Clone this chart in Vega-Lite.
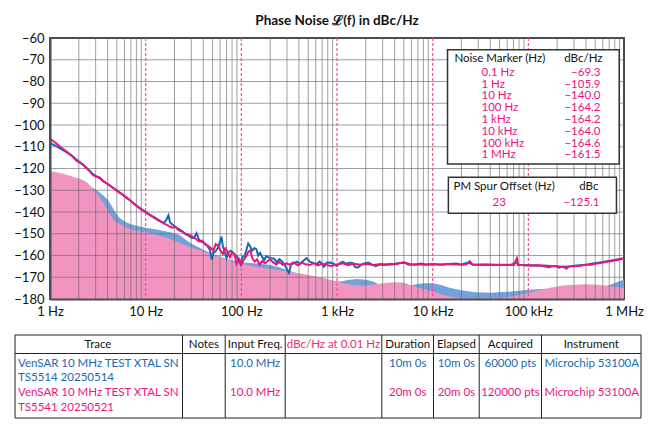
{
  "$schema": "https://vega.github.io/schema/vega-lite/v6.json",
  "padding": {"left": 12, "top": 12, "right": 4, "bottom": 4},
  "spacing": 15,
  "config": {
    "font": "Lato",
    "axis": {"labelFont": "Lato", "labelFontSize": 13, "labelColor": "#111", "ticks": false, "grid": false, "title": null},
    "text": {"font": "Lato"}
  },
  "datasets": {
    "traces": [
      {"f":1,"v":-106.3,"t":"p"},{"f":1.15,"v":-108.3,"t":"p"},{"f":1.3,"v":-110.2,"t":"p"},{"f":1.5,"v":-112.3,"t":"p"},{"f":1.7,"v":-114.3,"t":"p"},{"f":1.9,"v":-116.5,"t":"p"},{"f":2.05,"v":-117.3,"t":"p"},{"f":2.2,"v":-118.1,"t":"p"},{"f":2.4,"v":-119.6,"t":"p"},{"f":2.6,"v":-121.3,"t":"p"},{"f":2.8,"v":-122.9,"t":"p"},{"f":3.0,"v":-123.7,"t":"p"},{"f":3.3,"v":-124.1,"t":"p"},{"f":3.6,"v":-125.6,"t":"p"},{"f":4.0,"v":-127.2,"t":"p"},{"f":4.5,"v":-128.6,"t":"p"},{"f":5,"v":-130.3,"t":"p"},{"f":5.6,"v":-131.8,"t":"p"},{"f":6.3,"v":-133.2,"t":"p"},{"f":7,"v":-135,"t":"p"},{"f":8,"v":-137.2,"t":"p"},{"f":9,"v":-138.9,"t":"p"},{"f":10,"v":-140.2,"t":"p"},{"f":11,"v":-141.3,"t":"p"},{"f":12.5,"v":-143,"t":"p"},{"f":14,"v":-144.2,"t":"p"},{"f":16,"v":-145.6,"t":"p"},{"f":17.5,"v":-146.5,"t":"p"},{"f":19,"v":-147.2,"t":"p"},{"f":20.5,"v":-146.8,"t":"p"},{"f":22,"v":-148.4,"t":"p"},{"f":24,"v":-149,"t":"p"},{"f":26,"v":-149.9,"t":"p"},{"f":28,"v":-150.4,"t":"p"},{"f":30,"v":-151,"t":"p"},{"f":33,"v":-152.2,"t":"p"},{"f":36,"v":-153.5,"t":"p"},{"f":39,"v":-153.2,"t":"p"},{"f":42,"v":-155,"t":"p"},{"f":45,"v":-155.6,"t":"p"},{"f":48,"v":-156.6,"t":"p"},{"f":51,"v":-157.8,"t":"p"},{"f":54,"v":-154.8,"t":"p"},{"f":57,"v":-155.6,"t":"p"},{"f":60,"v":-157.4,"t":"p"},{"f":64,"v":-159.3,"t":"p"},{"f":68,"v":-156.7,"t":"p"},{"f":72,"v":-158.5,"t":"p"},{"f":76,"v":-160.8,"t":"p"},{"f":80,"v":-158.6,"t":"p"},{"f":85,"v":-159.4,"t":"p"},{"f":89,"v":-163.8,"t":"p"},{"f":94,"v":-161.5,"t":"p"},{"f":100,"v":-164.2,"t":"p"},{"f":106,"v":-162,"t":"p"},{"f":112,"v":-160.5,"t":"p"},{"f":118,"v":-158.4,"t":"p"},{"f":124,"v":-157.6,"t":"p"},{"f":131,"v":-161.5,"t":"p"},{"f":138,"v":-162.8,"t":"p"},{"f":146,"v":-161.8,"t":"p"},{"f":155,"v":-164.2,"t":"p"},{"f":165,"v":-162.6,"t":"p"},{"f":178,"v":-163.6,"t":"p"},{"f":190,"v":-162.4,"t":"p"},{"f":200,"v":-161.8,"t":"p"},{"f":215,"v":-163.2,"t":"p"},{"f":232,"v":-164.1,"t":"p"},{"f":250,"v":-163,"t":"p"},{"f":270,"v":-164.3,"t":"p"},{"f":295,"v":-163.6,"t":"p"},{"f":320,"v":-164.2,"t":"p"},{"f":350,"v":-163.2,"t":"p"},{"f":390,"v":-164.5,"t":"p"},{"f":430,"v":-163.4,"t":"p"},{"f":470,"v":-164,"t":"p"},{"f":520,"v":-164.4,"t":"p"},{"f":570,"v":-163.5,"t":"p"},{"f":630,"v":-164.5,"t":"p"},{"f":700,"v":-163.7,"t":"p"},{"f":780,"v":-164.4,"t":"p"},{"f":870,"v":-164.8,"t":"p"},{"f":1000,"v":-164.2,"t":"p"},{"f":1150,"v":-163.6,"t":"p"},{"f":1300,"v":-164.5,"t":"p"},{"f":1500,"v":-163.8,"t":"p"},{"f":1750,"v":-164.3,"t":"p"},{"f":2000,"v":-163.9,"t":"p"},{"f":2400,"v":-164.4,"t":"p"},{"f":2900,"v":-163.9,"t":"p"},{"f":3500,"v":-164.2,"t":"p"},{"f":4200,"v":-163.9,"t":"p"},{"f":5000,"v":-163.1,"t":"p"},{"f":5600,"v":-164.2,"t":"p"},{"f":7000,"v":-164,"t":"p"},{"f":8500,"v":-164.2,"t":"p"},{"f":10000,"v":-164,"t":"p"},{"f":12500,"v":-164.3,"t":"p"},{"f":15000,"v":-163.9,"t":"p"},{"f":18000,"v":-164.1,"t":"p"},{"f":21000,"v":-164.2,"t":"p"},{"f":23000,"v":-163.8,"t":"p"},{"f":24500,"v":-162.6,"t":"p"},{"f":26000,"v":-164.1,"t":"p"},{"f":30000,"v":-164.3,"t":"p"},{"f":36000,"v":-164.2,"t":"p"},{"f":45000,"v":-164.3,"t":"p"},{"f":55000,"v":-164.4,"t":"p"},{"f":65000,"v":-164.3,"t":"p"},{"f":71000,"v":-164.4,"t":"p"},{"f":74000,"v":-162.4,"t":"p"},{"f":76000,"v":-161.3,"t":"p"},{"f":78000,"v":-164.3,"t":"p"},{"f":90000,"v":-164.5,"t":"p"},{"f":100000,"v":-164.6,"t":"p"},{"f":120000,"v":-164.5,"t":"p"},{"f":145000,"v":-164.6,"t":"p"},{"f":175000,"v":-164.8,"t":"p"},{"f":205000,"v":-164.9,"t":"p"},{"f":235000,"v":-165.4,"t":"p"},{"f":250000,"v":-166.1,"t":"p"},{"f":265000,"v":-165,"t":"p"},{"f":300000,"v":-164.9,"t":"p"},{"f":350000,"v":-164.7,"t":"p"},{"f":400000,"v":-164.2,"t":"p"},{"f":450000,"v":-164.3,"t":"p"},{"f":500000,"v":-163.8,"t":"p"},{"f":580000,"v":-163.3,"t":"p"},{"f":660000,"v":-162.9,"t":"p"},{"f":750000,"v":-162.5,"t":"p"},{"f":870000,"v":-162,"t":"p"},{"f":1000000,"v":-161.5,"t":"p"},
      {"f":1,"v":-108.3,"t":"b"},{"f":1.15,"v":-109.6,"t":"b"},{"f":1.3,"v":-111,"t":"b"},{"f":1.5,"v":-112.6,"t":"b"},{"f":1.7,"v":-114.2,"t":"b"},{"f":1.9,"v":-116,"t":"b"},{"f":2.05,"v":-117.1,"t":"b"},{"f":2.2,"v":-118.3,"t":"b"},{"f":2.4,"v":-119.8,"t":"b"},{"f":2.6,"v":-121,"t":"b"},{"f":2.8,"v":-122.6,"t":"b"},{"f":3.0,"v":-123.4,"t":"b"},{"f":3.3,"v":-124.4,"t":"b"},{"f":3.6,"v":-125.9,"t":"b"},{"f":4.0,"v":-127,"t":"b"},{"f":4.5,"v":-128.8,"t":"b"},{"f":5,"v":-130,"t":"b"},{"f":5.6,"v":-131.6,"t":"b"},{"f":6.3,"v":-133.5,"t":"b"},{"f":7,"v":-134.8,"t":"b"},{"f":8,"v":-137,"t":"b"},{"f":9,"v":-138.6,"t":"b"},{"f":10,"v":-139.9,"t":"b"},{"f":11,"v":-141.2,"t":"b"},{"f":12.5,"v":-142.6,"t":"b"},{"f":14,"v":-144,"t":"b"},{"f":15.5,"v":-145,"t":"b"},{"f":16.5,"v":-143.5,"t":"b"},{"f":17.3,"v":-141.5,"t":"b"},{"f":18,"v":-144.8,"t":"b"},{"f":19,"v":-145.7,"t":"b"},{"f":20.5,"v":-146.9,"t":"b"},{"f":22,"v":-147.8,"t":"b"},{"f":24,"v":-148.8,"t":"b"},{"f":26,"v":-150.2,"t":"b"},{"f":28,"v":-150.8,"t":"b"},{"f":30,"v":-151.8,"t":"b"},{"f":32,"v":-151.9,"t":"b"},{"f":34,"v":-149.7,"t":"b"},{"f":36,"v":-152.6,"t":"b"},{"f":38,"v":-153.6,"t":"b"},{"f":41,"v":-154.2,"t":"b"},{"f":44,"v":-155.5,"t":"b"},{"f":47,"v":-157.5,"t":"b"},{"f":49,"v":-161.8,"t":"b"},{"f":51,"v":-159,"t":"b"},{"f":54,"v":-158,"t":"b"},{"f":57,"v":-156.5,"t":"b"},{"f":60,"v":-153.5,"t":"b"},{"f":62,"v":-151.3,"t":"b"},{"f":64,"v":-155.6,"t":"b"},{"f":67,"v":-158.5,"t":"b"},{"f":70,"v":-161.2,"t":"b"},{"f":73,"v":-158.8,"t":"b"},{"f":77,"v":-157.8,"t":"b"},{"f":82,"v":-158.6,"t":"b"},{"f":86,"v":-159.8,"t":"b"},{"f":90,"v":-160.5,"t":"b"},{"f":95,"v":-162.6,"t":"b"},{"f":98,"v":-164,"t":"b"},{"f":103,"v":-160.5,"t":"b"},{"f":108,"v":-160.3,"t":"b"},{"f":113,"v":-157.5,"t":"b"},{"f":118,"v":-154.5,"t":"b"},{"f":123,"v":-155.6,"t":"b"},{"f":130,"v":-157.8,"t":"b"},{"f":137,"v":-156.6,"t":"b"},{"f":144,"v":-157.2,"t":"b"},{"f":150,"v":-160,"t":"b"},{"f":157,"v":-158.8,"t":"b"},{"f":165,"v":-160.6,"t":"b"},{"f":173,"v":-162.2,"t":"b"},{"f":182,"v":-160.3,"t":"b"},{"f":192,"v":-160.8,"t":"b"},{"f":205,"v":-161.2,"t":"b"},{"f":220,"v":-161.5,"t":"b"},{"f":235,"v":-163.1,"t":"b"},{"f":250,"v":-161.7,"t":"b"},{"f":265,"v":-162.6,"t":"b"},{"f":285,"v":-164.3,"t":"b"},{"f":300,"v":-166.5,"t":"b"},{"f":315,"v":-168,"t":"b"},{"f":330,"v":-164.2,"t":"b"},{"f":355,"v":-163.5,"t":"b"},{"f":380,"v":-162.8,"t":"b"},{"f":410,"v":-163.8,"t":"b"},{"f":440,"v":-162.6,"t":"b"},{"f":480,"v":-161.2,"t":"b"},{"f":520,"v":-162.8,"t":"b"},{"f":560,"v":-163.4,"t":"b"},{"f":610,"v":-164,"t":"b"},{"f":660,"v":-162.7,"t":"b"},{"f":700,"v":-164.2,"t":"b"},{"f":730,"v":-165.2,"t":"b"},{"f":780,"v":-163.3,"t":"b"},{"f":850,"v":-163.2,"t":"b"},{"f":920,"v":-163.8,"t":"b"},{"f":1000,"v":-164.8,"t":"b"},{"f":1080,"v":-163.4,"t":"b"},{"f":1150,"v":-162.9,"t":"b"},{"f":1250,"v":-163.8,"t":"b"},{"f":1350,"v":-163.3,"t":"b"},{"f":1450,"v":-163.4,"t":"b"},{"f":1550,"v":-165.3,"t":"b"},{"f":1650,"v":-165.5,"t":"b"},{"f":1800,"v":-164.2,"t":"b"},{"f":1950,"v":-163.6,"t":"b"},{"f":2150,"v":-163.4,"t":"b"},{"f":2350,"v":-164.3,"t":"b"},{"f":2550,"v":-164.9,"t":"b"},{"f":2800,"v":-164.1,"t":"b"},{"f":3100,"v":-164.4,"t":"b"},{"f":3500,"v":-163.9,"t":"b"},{"f":4000,"v":-163.8,"t":"b"},{"f":4500,"v":-163.4,"t":"b"},{"f":5200,"v":-163.3,"t":"b"},{"f":5800,"v":-164,"t":"b"},{"f":6600,"v":-164.2,"t":"b"},{"f":7500,"v":-163.7,"t":"b"},{"f":8500,"v":-164.1,"t":"b"},{"f":10000,"v":-163.9,"t":"b"},{"f":12000,"v":-164.1,"t":"b"},{"f":14500,"v":-163.9,"t":"b"},{"f":17500,"v":-163.7,"t":"b"},{"f":20000,"v":-164.1,"t":"b"},{"f":23500,"v":-163.2,"t":"b"},{"f":26000,"v":-164.1,"t":"b"},{"f":30000,"v":-164.2,"t":"b"},{"f":36000,"v":-164.1,"t":"b"},{"f":45000,"v":-164.4,"t":"b"},{"f":55000,"v":-164.3,"t":"b"},{"f":65000,"v":-164.4,"t":"b"},{"f":73000,"v":-163.4,"t":"b"},{"f":75000,"v":-162.2,"t":"b"},{"f":78000,"v":-164.4,"t":"b"},{"f":90000,"v":-164.4,"t":"b"},{"f":100000,"v":-164.5,"t":"b"},{"f":115000,"v":-164.6,"t":"b"},{"f":130000,"v":-164.6,"t":"b"},{"f":150000,"v":-165.1,"t":"b"},{"f":165000,"v":-165.4,"t":"b"},{"f":180000,"v":-164.8,"t":"b"},{"f":195000,"v":-165,"t":"b"},{"f":210000,"v":-165.6,"t":"b"},{"f":230000,"v":-165.1,"t":"b"},{"f":260000,"v":-165.2,"t":"b"},{"f":300000,"v":-164.7,"t":"b"},{"f":350000,"v":-164.5,"t":"b"},{"f":400000,"v":-164.3,"t":"b"},{"f":450000,"v":-163.8,"t":"b"},{"f":520000,"v":-163.4,"t":"b"},{"f":600000,"v":-163,"t":"b"},{"f":700000,"v":-162.5,"t":"b"},{"f":820000,"v":-162,"t":"b"},{"f":1000000,"v":-161.3,"t":"b"}
    ],
    "floors": [
      {"f":1,"v":-121.3,"t":"p"},{"f":1.2,"v":-121.8,"t":"p"},{"f":1.5,"v":-122.9,"t":"p"},{"f":1.8,"v":-124,"t":"p"},{"f":2.1,"v":-124.8,"t":"p"},{"f":2.4,"v":-126.2,"t":"p"},{"f":2.7,"v":-128.3,"t":"p"},{"f":3.0,"v":-130.8,"t":"p"},{"f":3.3,"v":-133.2,"t":"p"},{"f":3.6,"v":-135.8,"t":"p"},{"f":4.0,"v":-139.3,"t":"p"},{"f":4.4,"v":-142.3,"t":"p"},{"f":4.8,"v":-144.2,"t":"p"},{"f":5.4,"v":-145.6,"t":"p"},{"f":6,"v":-146.8,"t":"p"},{"f":7,"v":-148,"t":"p"},{"f":8,"v":-148.7,"t":"p"},{"f":10,"v":-149.4,"t":"p"},{"f":12,"v":-150.1,"t":"p"},{"f":14,"v":-150.9,"t":"p"},{"f":17,"v":-152,"t":"p"},{"f":20,"v":-153.2,"t":"p"},{"f":25,"v":-155,"t":"p"},{"f":30,"v":-156.4,"t":"p"},{"f":40,"v":-158.2,"t":"p"},{"f":50,"v":-159.5,"t":"p"},{"f":70,"v":-161.9,"t":"p"},{"f":100,"v":-163.9,"t":"p"},{"f":150,"v":-165.4,"t":"p"},{"f":200,"v":-166.2,"t":"p"},{"f":300,"v":-167.4,"t":"p"},{"f":420,"v":-168.4,"t":"p"},{"f":550,"v":-169.3,"t":"p"},{"f":700,"v":-170.2,"t":"p"},{"f":900,"v":-171.5,"t":"p"},{"f":1100,"v":-172.5,"t":"p"},{"f":1400,"v":-173.4,"t":"p"},{"f":1800,"v":-173.9,"t":"p"},{"f":2300,"v":-173.6,"t":"p"},{"f":3000,"v":-172.8,"t":"p"},{"f":4000,"v":-172.3,"t":"p"},{"f":5000,"v":-172.5,"t":"p"},{"f":6300,"v":-174,"t":"p"},{"f":8000,"v":-175.4,"t":"p"},{"f":10000,"v":-176.6,"t":"p"},{"f":13000,"v":-178.2,"t":"p"},{"f":17000,"v":-179.3,"t":"p"},{"f":22000,"v":-179.8,"t":"p"},{"f":30000,"v":-179.9,"t":"p"},{"f":40000,"v":-179.8,"t":"p"},{"f":55000,"v":-179.4,"t":"p"},{"f":70000,"v":-178.6,"t":"p"},{"f":90000,"v":-177.7,"t":"p"},{"f":110000,"v":-176.8,"t":"p"},{"f":140000,"v":-175.6,"t":"p"},{"f":180000,"v":-174.6,"t":"p"},{"f":230000,"v":-173.8,"t":"p"},{"f":300000,"v":-173.4,"t":"p"},{"f":380000,"v":-173.2,"t":"p"},{"f":480000,"v":-173.3,"t":"p"},{"f":600000,"v":-173.7,"t":"p"},{"f":750000,"v":-174.3,"t":"p"},{"f":1000000,"v":-175,"t":"p"},
      {"f":1,"v":-121.8,"t":"b"},{"f":1.5,"v":-123.4,"t":"b"},{"f":2,"v":-125,"t":"b"},{"f":2.5,"v":-127.8,"t":"b"},{"f":2.8,"v":-128.8,"t":"b"},{"f":3.2,"v":-130.5,"t":"b"},{"f":3.6,"v":-132.4,"t":"b"},{"f":4.0,"v":-134.3,"t":"b"},{"f":4.4,"v":-137,"t":"b"},{"f":4.8,"v":-140,"t":"b"},{"f":5.3,"v":-142.6,"t":"b"},{"f":6,"v":-144.3,"t":"b"},{"f":7,"v":-145.6,"t":"b"},{"f":8,"v":-146.3,"t":"b"},{"f":10,"v":-147.2,"t":"b"},{"f":13,"v":-148.1,"t":"b"},{"f":16,"v":-148.9,"t":"b"},{"f":20,"v":-149.8,"t":"b"},{"f":23,"v":-150.8,"t":"b"},{"f":26,"v":-152.6,"t":"b"},{"f":30,"v":-154.5,"t":"b"},{"f":35,"v":-156,"t":"b"},{"f":40,"v":-157.4,"t":"b"},{"f":50,"v":-159.3,"t":"b"},{"f":70,"v":-161.6,"t":"b"},{"f":100,"v":-163.1,"t":"b"},{"f":150,"v":-163.7,"t":"b"},{"f":200,"v":-164.4,"t":"b"},{"f":250,"v":-165.4,"t":"b"},{"f":300,"v":-166.8,"t":"b"},{"f":420,"v":-168.6,"t":"b"},{"f":550,"v":-169.6,"t":"b"},{"f":700,"v":-170.6,"t":"b"},{"f":900,"v":-171.6,"t":"b"},{"f":1100,"v":-171.9,"t":"b"},{"f":1300,"v":-171.3,"t":"b"},{"f":1600,"v":-170.8,"t":"b"},{"f":2000,"v":-171.1,"t":"b"},{"f":2400,"v":-172,"t":"b"},{"f":2800,"v":-173.5,"t":"b"},{"f":3500,"v":-174.2,"t":"b"},{"f":4500,"v":-174.5,"t":"b"},{"f":5500,"v":-174,"t":"b"},{"f":6500,"v":-173.3,"t":"b"},{"f":8000,"v":-172.8,"t":"b"},{"f":10000,"v":-172.8,"t":"b"},{"f":12000,"v":-173.5,"t":"b"},{"f":15000,"v":-174.8,"t":"b"},{"f":20000,"v":-176,"t":"b"},{"f":28000,"v":-176.9,"t":"b"},{"f":40000,"v":-177.1,"t":"b"},{"f":60000,"v":-176.7,"t":"b"},{"f":80000,"v":-176.2,"t":"b"},{"f":100000,"v":-175.8,"t":"b"},{"f":150000,"v":-175.3,"t":"b"},{"f":200000,"v":-175.3,"t":"b"},{"f":300000,"v":-175.6,"t":"b"},{"f":400000,"v":-175.7,"t":"b"},{"f":500000,"v":-175.3,"t":"b"},{"f":600000,"v":-174.6,"t":"b"},{"f":700000,"v":-173.6,"t":"b"},{"f":800000,"v":-172.6,"t":"b"},{"f":900000,"v":-171.8,"t":"b"},{"f":1000000,"v":-171,"t":"b"}
    ],
    "gridx": [
      {"f":2},{"f":3},{"f":4},{"f":5},{"f":6},{"f":7},{"f":8},{"f":9},
      {"f":20},{"f":30},{"f":40},{"f":50},{"f":60},{"f":70},{"f":80},{"f":90},
      {"f":200},{"f":300},{"f":400},{"f":500},{"f":600},{"f":700},{"f":800},{"f":900},
      {"f":2000},{"f":3000},{"f":4000},{"f":5000},{"f":6000},{"f":7000},{"f":8000},{"f":9000},
      {"f":20000},{"f":30000},{"f":40000},{"f":50000},{"f":60000},{"f":70000},{"f":80000},{"f":90000},
      {"f":200000},{"f":300000},{"f":400000},{"f":500000},{"f":600000},{"f":700000},{"f":800000},{"f":900000}
    ],
    "gridy": [{"v":-70},{"v":-80},{"v":-90},{"v":-100},{"v":-110},{"v":-120},{"v":-130},{"v":-140},{"v":-150},{"v":-160},{"v":-170}],
    "markers": [
      {"m":"0.1 Hz","f":0.1,"v":-69.3,"i":0},
      {"m":"1 Hz","f":1,"v":-105.9,"i":1},
      {"m":"10 Hz","f":10,"v":-140.0,"i":2},
      {"m":"100 Hz","f":100,"v":-164.2,"i":3},
      {"m":"1 kHz","f":1000,"v":-164.2,"i":4},
      {"m":"10 kHz","f":10000,"v":-164.0,"i":5},
      {"m":"100 kHz","f":100000,"v":-164.6,"i":6},
      {"m":"1 MHz","f":1000000,"v":-161.5,"i":7}
    ],
    "spurs": [{"off":"23","v":-125.1}],
    "columns": [
      {"name":"Trace","x0":0,"x1":167.5,"xc":83},
      {"name":"Notes","x0":167.5,"x1":210.2,"xc":188.9},
      {"name":"Input Freq.","x0":210.2,"x1":270.2,"xc":240.2},
      {"name":"dBc/Hz at 0.01 Hz","x0":270.2,"x1":366.8,"xc":318.5},
      {"name":"Duration","x0":366.8,"x1":418.5,"xc":392.7},
      {"name":"Elapsed","x0":418.5,"x1":464.2,"xc":441.4},
      {"name":"Acquired","x0":464.2,"x1":526.5,"xc":495.4},
      {"name":"Instrument","x0":526.5,"x1":626,"xc":576.3}
    ],
    "cells": [
      {"col":"Trace","line":0,"text":"VenSAR 10 MHz TEST XTAL SN","t":"b"},
      {"col":"Trace","line":1,"text":"TS5514 20250514","t":"b"},
      {"col":"Trace","line":2,"text":"VenSAR 10 MHz TEST XTAL SN","t":"p"},
      {"col":"Trace","line":3,"text":"TS5541 20250521","t":"p"},
      {"col":"Input Freq.","line":0,"text":"10.0 MHz","t":"b"},
      {"col":"Input Freq.","line":2,"text":"10.0 MHz","t":"p"},
      {"col":"Duration","line":0,"text":"10m 0s","t":"b"},
      {"col":"Duration","line":2,"text":"20m 0s","t":"p"},
      {"col":"Elapsed","line":0,"text":"10m 0s","t":"b"},
      {"col":"Elapsed","line":2,"text":"20m 0s","t":"p"},
      {"col":"Acquired","line":0,"text":"60000 pts","t":"b"},
      {"col":"Acquired","line":2,"text":"120000 pts","t":"p"},
      {"col":"Instrument","line":0,"text":"Microchip 53100A","t":"b"},
      {"col":"Instrument","line":2,"text":"Microchip 53100A","t":"p"}
    ]
  },
  "vconcat": [
    {
      "width": 574,
      "height": 261,
      "title": {"text": "Phase Noise ℒ(f) in dBc/Hz", "font": "Lato", "fontSize": 13.5, "fontWeight": "bold", "color": "#111", "frame": "group", "anchor": "middle", "offset": 5},
      "view": {"stroke": "#4a4d57", "strokeWidth": 2, "fill": "white"},
      "resolve": {"scale": {"y": "independent"}},
      "layer": [
        {
          "layer": [
            {
              "data": {"name": "floors"},
              "transform": [{"filter": "datum.t == 'b'"}],
              "mark": {"type": "area", "color": "#74a3da", "opacity": 1, "clip": true},
              "encoding": {
                "x": {"field": "f", "type": "quantitative", "scale": {"type": "log", "domain": [1, 1000000], "nice": false},
                  "axis": {"values": [1, 10, 100, 1000, 10000, 100000, 1000000], "labelExpr": "datum.value == 1 ? '1 Hz' : datum.value == 10 ? '10 Hz' : datum.value == 100 ? '100 Hz' : datum.value == 1000 ? '1 kHz' : datum.value == 10000 ? '10 kHz' : datum.value == 100000 ? '100 kHz' : '1 MHz'", "labelFlush": false, "labelBound": false, "labelOverlap": false, "labelPadding": 6, "domain": true, "domainColor": "#4a4d57", "domainWidth": 2, "zindex": 1}},
                "y": {"field": "v", "type": "quantitative", "scale": {"domain": [-180, -60], "nice": false, "zero": false},
                  "axis": {"values": [-60, -70, -80, -90, -100, -110, -120, -130, -140, -150, -160, -170, -180], "labelOverlap": false, "labelPadding": 6, "domain": true, "domainColor": "#4a4d57", "domainWidth": 2, "zindex": 1}},
                "y2": {"datum": -180}
              }
            },
            {
              "data": {"name": "floors"},
              "transform": [{"filter": "datum.t == 'p'"}],
              "mark": {"type": "area", "color": "#f294c0", "opacity": 1, "clip": true},
              "encoding": {
                "x": {"field": "f", "type": "quantitative"},
                "y": {"field": "v", "type": "quantitative",
                  "axis": {"values": [-60, -70, -80, -90, -100, -110, -120, -130, -140, -150, -160, -170, -180], "labelOverlap": false, "labelPadding": 6, "domain": true, "domainColor": "#4a4d57", "domainWidth": 2, "zindex": 1}},
                "y2": {"datum": -180}
              }
            },
            {
              "data": {"name": "gridx"},
              "mark": {"type": "rule", "color": "#666", "opacity": 0.62, "strokeWidth": 1},
              "encoding": {"x": {"field": "f", "type": "quantitative"}}
            },
            {
              "data": {"name": "gridy"},
              "mark": {"type": "rule", "color": "#666", "opacity": 0.62, "strokeWidth": 1},
              "encoding": {"y": {"field": "v", "type": "quantitative",
                  "axis": {"values": [-60, -70, -80, -90, -100, -110, -120, -130, -140, -150, -160, -170, -180], "labelOverlap": false, "labelPadding": 6, "domain": true, "domainColor": "#4a4d57", "domainWidth": 2, "zindex": 1}}}
            },
            {
              "data": {"name": "markers"},
              "transform": [{"filter": "datum.f >= 10 && datum.f <= 100000"}],
              "mark": {"type": "rule", "color": "#f0509e", "strokeDash": [3, 2], "strokeWidth": 1.2},
              "encoding": {"x": {"field": "f", "type": "quantitative"}}
            },
            {
              "data": {"name": "traces"},
              "transform": [{"filter": "datum.t == 'b'"}],
              "mark": {"type": "line", "color": "#1766b5", "strokeWidth": 2, "clip": true},
              "encoding": {
                "x": {"field": "f", "type": "quantitative"},
                "y": {"field": "v", "type": "quantitative",
                  "axis": {"values": [-60, -70, -80, -90, -100, -110, -120, -130, -140, -150, -160, -170, -180], "labelOverlap": false, "labelPadding": 6, "domain": true, "domainColor": "#4a4d57", "domainWidth": 2, "zindex": 1}}
              }
            },
            {
              "data": {"name": "traces"},
              "transform": [{"filter": "datum.t == 'p'"}],
              "mark": {"type": "line", "color": "#e8157f", "strokeWidth": 2, "clip": true},
              "encoding": {
                "x": {"field": "f", "type": "quantitative"},
                "y": {"field": "v", "type": "quantitative",
                  "axis": {"values": [-60, -70, -80, -90, -100, -110, -120, -130, -140, -150, -160, -170, -180], "labelOverlap": false, "labelPadding": 6, "domain": true, "domainColor": "#4a4d57", "domainWidth": 2, "zindex": 1}}
              }
            }
          ]
        },
        {
          "layer": [
            {
              "data": {"values": [{"box": "markers"}]},
              "mark": {"type": "rect", "fill": "white", "stroke": "#333", "strokeWidth": 1.5},
              "encoding": {
                "x": {"datum": 14300, "type": "quantitative"},
                "x2": {"datum": 891000},
                "y": {"datum": -1.95, "type": "quantitative", "scale": {"domain": [-2.947, 19.15], "reverse": true, "nice": false, "zero": false}, "axis": null},
                "y2": {"datum": 7.71}
              }
            },
            {
              "data": {"values": [{"box": "spur"}]},
              "mark": {"type": "rect", "fill": "white", "stroke": "#333", "strokeWidth": 1.5},
              "encoding": {
                "x": {"datum": 14600, "type": "quantitative"},
                "x2": {"datum": 834000},
                "y": {"datum": 8.84, "type": "quantitative", "scale": {"domain": [-2.947, 19.15], "reverse": true, "nice": false, "zero": false}, "axis": null},
                "y2": {"datum": 11.89}
              }
            },
            {
              "data": {"values": [{"h": "Noise Marker (Hz)"}]},
              "mark": {"type": "text", "align": "left", "fontSize": 11.5, "color": "#111"},
              "encoding": {
                "x": {"datum": 16900, "type": "quantitative"},
                "y": {"datum": -1.185, "type": "quantitative", "scale": {"domain": [-2.947, 19.15], "reverse": true, "nice": false, "zero": false}, "axis": null},
                "text": {"field": "h"}
              }
            },
            {
              "data": {"values": [{"h": "dBc/Hz"}]},
              "mark": {"type": "text", "align": "right", "fontSize": 11.5, "color": "#111"},
              "encoding": {
                "x": {"datum": 596000, "type": "quantitative"},
                "y": {"datum": -1.185, "type": "quantitative", "scale": {"domain": [-2.947, 19.15], "reverse": true, "nice": false, "zero": false}, "axis": null},
                "text": {"field": "h"}
              }
            },
            {
              "data": {"name": "markers"},
              "mark": {"type": "text", "align": "left", "fontSize": 11.5, "color": "#e8157f"},
              "encoding": {
                "x": {"datum": 32400, "type": "quantitative"},
                "y": {"field": "i", "type": "quantitative", "scale": {"domain": [-2.947, 19.15], "reverse": true, "nice": false, "zero": false}, "axis": null},
                "text": {"field": "m"}
              }
            },
            {
              "data": {"name": "markers"},
              "mark": {"type": "text", "align": "right", "fontSize": 11.5, "color": "#e8157f"},
              "encoding": {
                "x": {"datum": 568000, "type": "quantitative"},
                "y": {"field": "i", "type": "quantitative", "scale": {"domain": [-2.947, 19.15], "reverse": true, "nice": false, "zero": false}, "axis": null},
                "text": {"field": "v", "format": ".1f"}
              }
            },
            {
              "data": {"values": [{"h": "PM Spur Offset (Hz)"}]},
              "mark": {"type": "text", "align": "left", "fontSize": 11.5, "color": "#111"},
              "encoding": {
                "x": {"datum": 16500, "type": "quantitative"},
                "y": {"datum": 9.69, "type": "quantitative", "scale": {"domain": [-2.947, 19.15], "reverse": true, "nice": false, "zero": false}, "axis": null},
                "text": {"field": "h"}
              }
            },
            {
              "data": {"values": [{"h": "dBc"}]},
              "mark": {"type": "text", "align": "right", "fontSize": 11.5, "color": "#111"},
              "encoding": {
                "x": {"datum": 540000, "type": "quantitative"},
                "y": {"datum": 9.69, "type": "quantitative", "scale": {"domain": [-2.947, 19.15], "reverse": true, "nice": false, "zero": false}, "axis": null},
                "text": {"field": "h"}
              }
            },
            {
              "data": {"name": "spurs"},
              "mark": {"type": "text", "align": "center", "fontSize": 11.5, "color": "#e8157f"},
              "encoding": {
                "x": {"datum": 49600, "type": "quantitative"},
                "y": {"datum": 11.0, "type": "quantitative", "scale": {"domain": [-2.947, 19.15], "reverse": true, "nice": false, "zero": false}, "axis": null},
                "text": {"field": "off"}
              }
            },
            {
              "data": {"name": "spurs"},
              "mark": {"type": "text", "align": "right", "fontSize": 11.5, "color": "#e8157f"},
              "encoding": {
                "x": {"datum": 554000, "type": "quantitative"},
                "y": {"datum": 11.0, "type": "quantitative", "scale": {"domain": [-2.947, 19.15], "reverse": true, "nice": false, "zero": false}, "axis": null},
                "text": {"field": "v", "format": ".1f"}
              }
            }
          ]
        }
      ]
    },
    {
      "width": 591,
      "height": 83,
      "view": {"stroke": null},
      "layer": [
        {
          "data": {"name": "columns"},
          "mark": {"type": "rule", "color": "#222", "strokeWidth": 1},
          "encoding": {"x": {"field": "x0", "type": "quantitative", "scale": {"domain": [35, 626], "nice": false, "zero": false}, "axis": null}}
        },
        {
          "data": {"name": "columns"},
          "transform": [{"filter": "datum.name == 'Instrument'"}],
          "mark": {"type": "rule", "color": "#222", "strokeWidth": 1},
          "encoding": {"x": {"field": "x1", "type": "quantitative"}}
        },
        {
          "data": {"values": [{"line": "top"}]},
          "mark": {"type": "rule", "color": "#222", "strokeWidth": 1},
          "encoding": {
            "x": {"datum": 0, "type": "quantitative"},
            "x2": {"datum": 626},
            "y": {"datum": -1.926, "type": "quantitative", "scale": {"domain": [-1.926, 3.682], "reverse": true, "nice": false, "zero": false}, "axis": null}
          }
        },
        {
          "data": {"values": [{"line": "header"}]},
          "mark": {"type": "rule", "color": "#222", "strokeWidth": 1},
          "encoding": {
            "x": {"datum": 0, "type": "quantitative"},
            "x2": {"datum": 626},
            "y": {"datum": -0.676, "type": "quantitative"}
          }
        },
        {
          "data": {"values": [{"line": "bottom"}]},
          "mark": {"type": "rule", "color": "#222", "strokeWidth": 1},
          "encoding": {
            "x": {"datum": 0, "type": "quantitative"},
            "x2": {"datum": 626},
            "y": {"datum": 3.682, "type": "quantitative"}
          }
        },
        {
          "data": {"name": "columns"},
          "mark": {"type": "text", "align": "center", "fontSize": 11.5},
          "encoding": {
            "x": {"field": "xc", "type": "quantitative"},
            "y": {"datum": -1.271, "type": "quantitative"},
            "text": {"field": "name"},
            "color": {"condition": {"test": "datum.name == 'dBc/Hz at 0.01 Hz'", "value": "#ea2d72"}, "value": "#111"}
          }
        },
        {
          "data": {"name": "cells"},
          "transform": [
            {"filter": "datum.col != 'Trace' && datum.col != 'Instrument'"},
            {"lookup": "col", "from": {"data": {"name": "columns"}, "key": "name", "fields": ["xc", "x0"]}}
          ],
          "mark": {"type": "text", "align": "center", "fontSize": 11.5},
          "encoding": {
            "x": {"field": "xc", "type": "quantitative"},
            "y": {"field": "line", "type": "quantitative"},
            "text": {"field": "text"},
            "color": {"condition": {"test": "datum.t == 'b'", "value": "#1a68b3"}, "value": "#e5177e"}
          }
        },
        {
          "data": {"name": "cells"},
          "transform": [
            {"filter": "datum.col == 'Trace' || datum.col == 'Instrument'"},
            {"lookup": "col", "from": {"data": {"name": "columns"}, "key": "name", "fields": ["xc", "x0"]}}
          ],
          "mark": {"type": "text", "align": "left", "fontSize": 11.5, "dx": 3},
          "encoding": {
            "x": {"field": "x0", "type": "quantitative"},
            "y": {"field": "line", "type": "quantitative"},
            "text": {"field": "text"},
            "color": {"condition": {"test": "datum.t == 'b'", "value": "#1a68b3"}, "value": "#e5177e"}
          }
        }
      ]
    }
  ]
}
